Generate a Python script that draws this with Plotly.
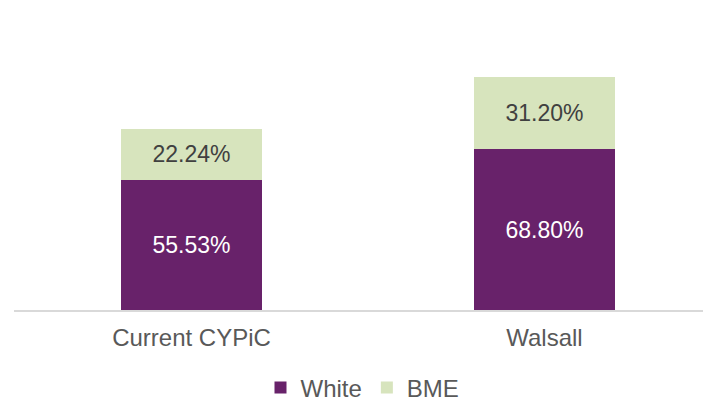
import plotly.graph_objects as go

categories = ["Current CYPiC", "Walsall"]
white_values = [55.53, 68.80]
bme_values = [22.24, 31.20]

purple = "#68226A"
green = "#D7E4BD"
font_family = "Liberation Sans, Arial, sans-serif"

fig = go.Figure()
fig.add_trace(go.Bar(
    x=categories, y=white_values, name="White",
    marker=dict(color=purple, line=dict(width=0)),
    width=0.4,
    texttemplate="%{y:.2f}%", textposition="inside", insidetextanchor="middle",
    textfont=dict(family=font_family, size=23, color="#FFFFFF"),
    hoverinfo="skip",
))
fig.add_trace(go.Bar(
    x=categories, y=bme_values, name="BME",
    marker=dict(color=green, line=dict(width=0)),
    width=0.4,
    texttemplate="%{y:.2f}%", textposition="inside", insidetextanchor="middle",
    textfont=dict(family=font_family, size=23, color="#404040"),
    hoverinfo="skip",
))

fig.update_layout(
    barmode="stack",
    width=711, height=420,
    margin=dict(l=6, r=8, t=22, b=118),
    paper_bgcolor="white", plot_bgcolor="white",
    font=dict(family=font_family, size=23, color="#595959"),
    xaxis=dict(
        range=[-0.503, 1.472],
        showline=True, linecolor="#D9D9D9", linewidth=1.5,
        showgrid=False, ticks="", zeroline=False,
        tickfont=dict(size=24, color="#595959"),
        ticklabelstandoff=5,
    ),
    yaxis=dict(range=[0, 120], visible=False, showgrid=False, zeroline=False),
    showlegend=True,
    legend=dict(
        orientation="h", x=0.5, xanchor="center", y=-0.2786, yanchor="middle",
        font=dict(size=24, color="#595959"), itemwidth=30,
        traceorder="normal",
    ),
)

fig.write_html("out.html")
